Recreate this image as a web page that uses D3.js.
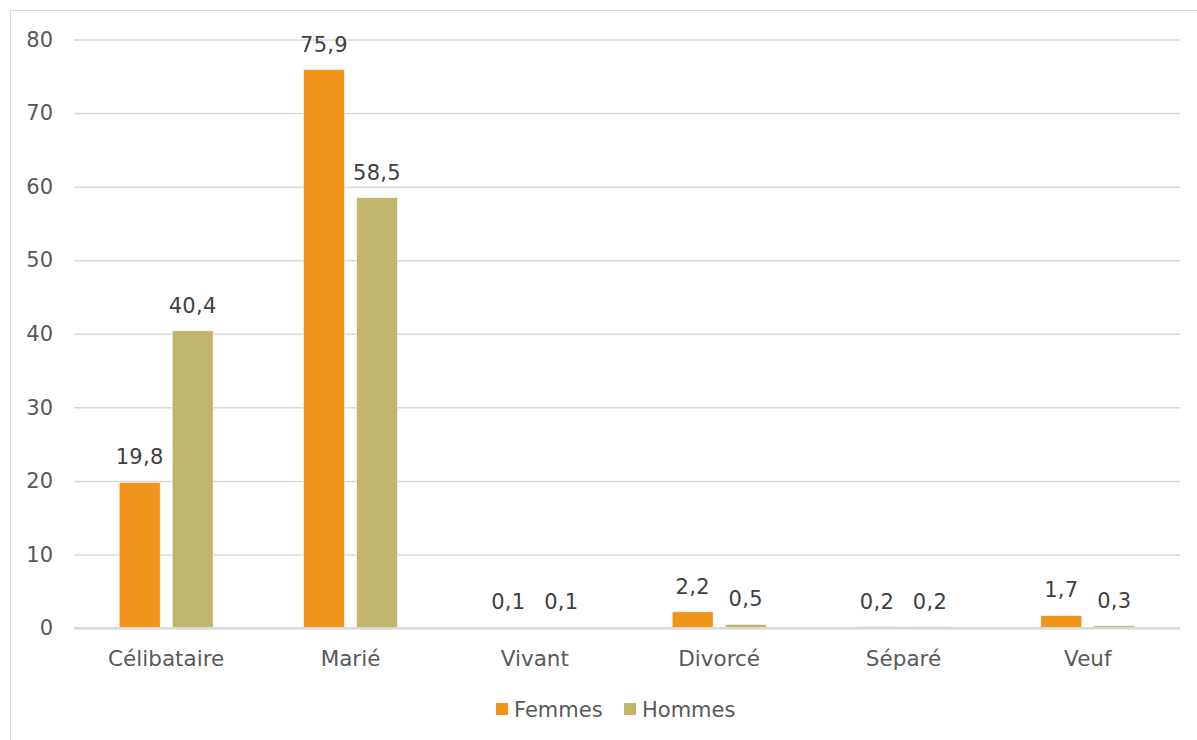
<!DOCTYPE html>
<html><head><meta charset="utf-8">
<script src="https://cdn.jsdelivr.net/npm/d3@7"></script>
<style>
html,body{margin:0;padding:0;background:#fff;}
svg{display:block;}
text{font-family:"DejaVu Sans",sans-serif;}
</style></head>
<body>
<svg id="c" width="1197" height="740"></svg>
<script>
const categories = ["Célibataire","Marié","Vivant","Divorcé","Séparé","Veuf"];
const seriesNames = ["Femmes","Hommes"];
const femmes = [19.8,75.9,0.1,2.2,0.2,1.7];
const hommes = [40.4,58.5,0.1,0.5,0.2,0.3];
const yTicks = [0,10,20,30,40,50,60,70,80];
const colors = ["#F0941A","#C0B56B"];

const svg = d3.select("#c");
const plotLeft = 74, plotRight = 1180, plotTop = 39.5, plotBottom = 628;

svg.append("rect").attr("x",10.5).attr("y",10.5).attr("width",1300).attr("height",900)
  .attr("fill","#fff").attr("stroke","#D9D9D9").attr("stroke-width",1);

const y = d3.scaleLinear().domain([0,80]).range([plotBottom, plotTop]);
const x0 = d3.scaleBand().domain(categories).range([plotLeft, plotRight]).padding(0);
const bw = x0.bandwidth();
const x1 = d3.scaleBand().domain(seriesNames).range([(bw-94)/2,(bw+94)/2]).paddingInner(0.226).paddingOuter(0);

// gridlines + y axis
const yAxis = d3.axisLeft(y).tickValues(yTicks).tickSize(-(plotRight-plotLeft)).tickPadding(21).tickFormat(d3.format("d"));
const gy = svg.append("g").attr("transform",`translate(${plotLeft},0)`).call(yAxis);
gy.select(".domain").remove();
gy.selectAll(".tick line").attr("stroke","#D9D9D9").attr("stroke-width",1.5);
gy.selectAll(".tick text").attr("fill","#595959").style("font-size","21px").style("font-family","DejaVu Sans");

// x axis
const xAxis = d3.axisBottom(x0).tickSize(0).tickPadding(0);
const gx = svg.append("g").attr("transform",`translate(0,${plotBottom})`).call(xAxis);
gx.select(".domain").attr("stroke","#D9D9D9").attr("stroke-width",2);
gx.selectAll(".tick text").attr("fill","#595959").style("font-size","21.5px").style("font-family","DejaVu Sans")
  .attr("dy",null).attr("y",38);

const rows = categories.map((c,i)=>({cat:c, vals:[{s:"Femmes",v:femmes[i]},{s:"Hommes",v:hommes[i]}]}));
const g = svg.append("g");
const grp = g.selectAll("g.cat").data(rows).join("g").attr("class","cat")
  .attr("transform",d=>`translate(${x0(d.cat)},0)`);
grp.selectAll("rect").data(d=>d.vals).join("rect")
  .attr("x",d=>x1(d.s)).attr("width",x1.bandwidth())
  .attr("y",d=>y(d.v)).attr("height",d=>plotBottom-y(d.v))
  .attr("fill",d=>colors[seriesNames.indexOf(d.s)])
  .attr("stroke","#fff").attr("stroke-width",0.6);
grp.selectAll("text").data(d=>d.vals).join("text")
  .attr("x",d=>x1(d.s)+x1.bandwidth()/2).attr("y",d=>y(d.v)-18)
  .attr("text-anchor","middle").attr("fill","#404040").style("font-size","21px")
  .style("letter-spacing","0.3px")
  .text(d=>String(d.v).replace(".",","));

// baseline over bars
svg.append("line").attr("x1",plotLeft).attr("x2",plotRight).attr("y1",plotBottom).attr("y2",plotBottom)
  .attr("stroke","#D9D9D9").attr("stroke-width",2);

// legend
const leg = svg.append("g");
const legX = [496,624];
seriesNames.forEach((s,i)=>{
  leg.append("rect").attr("x",legX[i]).attr("y",703).attr("width",12).attr("height",12).attr("fill",colors[i]);
  leg.append("text").attr("x",legX[i]+18).attr("y",716.5).attr("fill","#595959").style("font-size","21px").text(s);
});
</script>
</body></html>
